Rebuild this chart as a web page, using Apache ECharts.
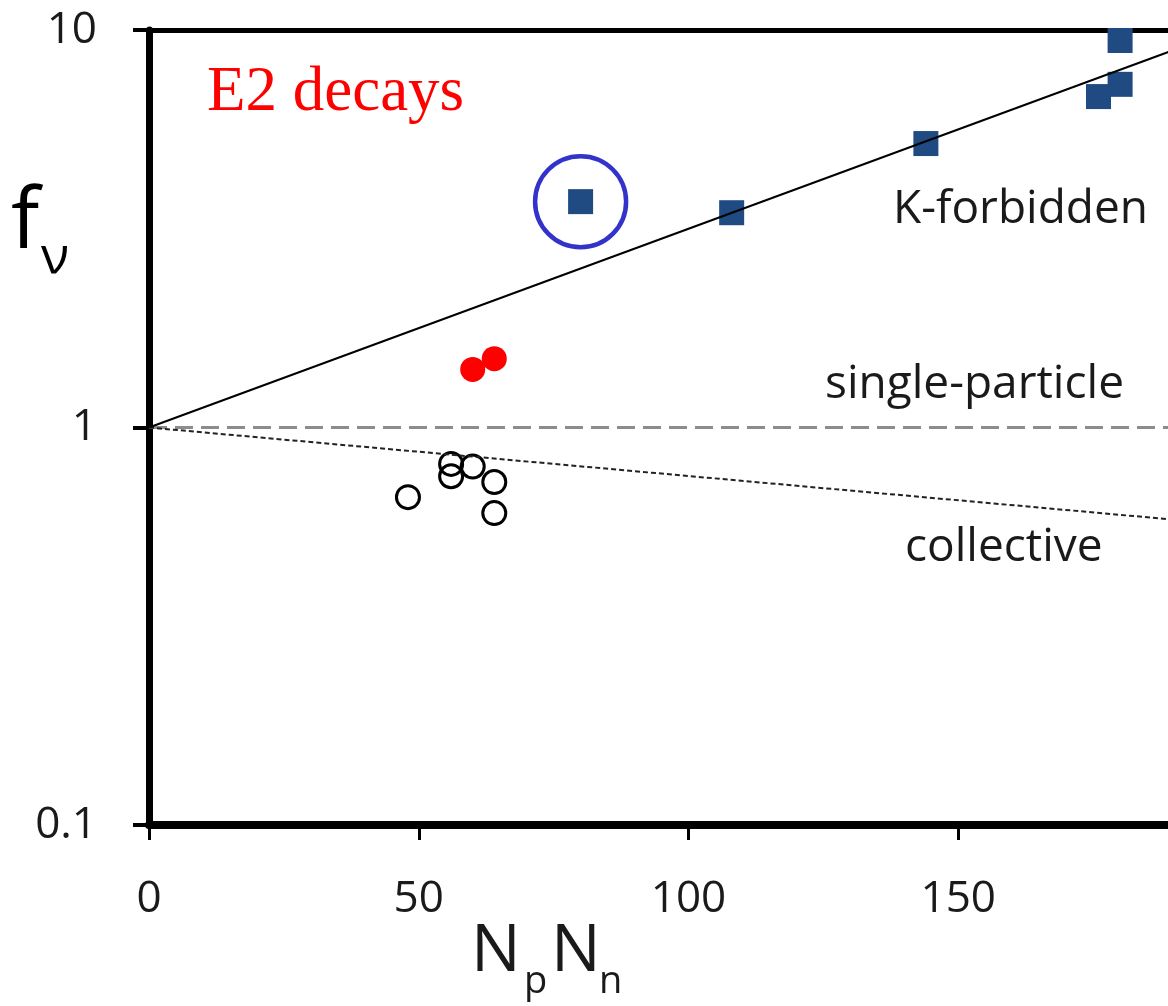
<!DOCTYPE html>
<html>
<head>
<meta charset="utf-8">
<script src="https://cdn.jsdelivr.net/npm/echarts@6/dist/echarts.min.js"></script>
<style>
html,body{margin:0;padding:0;background:#fff;}
#chart{width:1168px;height:1006px;}
</style>
</head>
<body>
<div id="chart"></div>
<script>
// ---- data ----
const kForbiddenNpNn = [80, 108, 144, 176, 180, 180];
const kForbiddenF    = [3.70, 3.47, 5.18, 6.80, 7.30, 9.41];
const redNpNn = [60, 64];
const redF    = [1.40, 1.49];
const openNpNn = [48, 56, 56, 60, 64, 64];
const openF    = [0.668, 0.810, 0.754, 0.798, 0.729, 0.609];
const highlightNpNn = [80];
const highlightF    = [3.70];
const kLineNpNn = [0, 200];
const kLineF    = [1, 10];
const spLineNpNn = [0, 200];
const spLineF    = [1, 1];
const collLineNpNn = [0, 200];
const collLineF    = [1, 0.57];
const xTickValues = [0, 50, 100, 150, 200];
const yTickValues = [0.1, 1, 10];
const yTickLabels = ['0.1', '1', '10'];

const zip = (a, b) => a.map((v, i) => [v, b[i]]);

const FONT = '"Open Sans", "Noto Sans", sans-serif';
const TXT = '#1a1a1a';

const chart = echarts.init(document.getElementById('chart'), null, {renderer: 'canvas'});

const option = {
  animation: false,
  backgroundColor: '#fff',
  grid: {left: 149, right: -60, top: 30, bottom: 181, containLabel: false, outerBoundsMode: 'none'},
  xAxis: [{
    type: 'value', min: xTickValues[0], max: xTickValues[xTickValues.length - 1], interval: 50,
    position: 'bottom',
    axisLine: {show: true, onZero: false, lineStyle: {color: '#000', width: 8}},
    axisTick: {show: true, length: 15, lineStyle: {color: '#000', width: 3}},
    axisLabel: {show: true, margin: 52, fontSize: 44, fontFamily: FONT, color: TXT,
      formatter: v => xTickValues.includes(v) ? String(v) : ''},
    splitLine: {show: false}
  }, {
    type: 'value', min: 0, max: 200, position: 'top',
    axisLine: {show: true, onZero: false, lineStyle: {color: '#000', width: 5}},
    axisTick: {show: false}, axisLabel: {show: false}, splitLine: {show: false}
  }],
  yAxis: {
    type: 'log', logBase: 10, min: yTickValues[0], max: yTickValues[yTickValues.length - 1],
    axisLine: {show: true, onZero: false, lineStyle: {color: '#000', width: 7}},
    axisTick: {show: true, length: 16, lineStyle: {color: '#000', width: 4}},
    minorTick: {show: false},
    axisLabel: {show: true, margin: 52, fontSize: 44, fontFamily: FONT, color: TXT,
      formatter: v => {
        const i = yTickValues.findIndex(t => Math.abs(Math.log10(t) - Math.log10(v)) < 1e-6);
        return i >= 0 ? yTickLabels[i] : '';
      }},
    splitLine: {show: false}
  },
  series: [
    {type: 'line', data: zip(spLineNpNn, spLineF), symbol: 'none', silent: true,
      lineStyle: {color: '#8c8c8c', width: 3, type: [18, 8]}},
    {type: 'line', data: zip(collLineNpNn, collLineF), symbol: 'none', silent: true,
      lineStyle: {color: '#222', width: 2, type: [5, 3]}},
    {type: 'line', data: zip(kLineNpNn, kLineF), symbol: 'none', silent: true,
      lineStyle: {color: '#000', width: 2}},
    {type: 'scatter', data: zip(openNpNn, openF), symbol: 'circle', symbolSize: 23,
      itemStyle: {color: 'rgba(0,0,0,0)', borderColor: '#000', borderWidth: 3, opacity: 1}},
    {type: 'scatter', data: zip(redNpNn, redF), symbol: 'circle', symbolSize: 25,
      itemStyle: {color: '#ff0000', opacity: 1}},
    {type: 'scatter', data: zip(kForbiddenNpNn, kForbiddenF), symbol: 'rect', symbolSize: 25,
      itemStyle: {color: '#1f4a82', opacity: 1}},
    {type: 'scatter', data: zip(highlightNpNn, highlightF), symbol: 'circle', symbolSize: 91,
      itemStyle: {color: 'rgba(0,0,0,0)', borderColor: '#3333cc', borderWidth: 4.5, opacity: 1}}
  ],
  graphic: [
    {type: 'text', left: 207, top: 62, style: {text: 'E2 decays', font: '63px "Liberation Serif", serif', fill: '#ff0000'}},
    {type: 'text', left: 893, top: 187, style: {text: 'K-forbidden', font: '46px ' + FONT, fill: TXT}},
    {type: 'text', left: 825, top: 362, style: {text: 'single-particle', font: '46px ' + FONT, fill: TXT}},
    {type: 'text', left: 905, top: 525, style: {text: 'collective', font: '46px ' + FONT, fill: TXT}},
    {type: 'text', left: 11, top: 182, style: {text: 'f', font: '84px ' + FONT, fill: '#000'}},
    {type: 'text', left: 41, top: 232, style: {text: 'ν', font: '52px ' + FONT, fill: '#000'}},
    {type: 'text', left: 471, top: 919, style: {text: 'N', font: '66px ' + FONT, fill: TXT}},
    {type: 'text', left: 524, top: 963, style: {text: 'p', font: '38px ' + FONT, fill: TXT}},
    {type: 'text', left: 551, top: 919, style: {text: 'N', font: '66px ' + FONT, fill: TXT}},
    {type: 'text', left: 599, top: 963, style: {text: 'n', font: '38px ' + FONT, fill: TXT}}
  ]
};
chart.setOption(option);
</script>
</body>
</html>
